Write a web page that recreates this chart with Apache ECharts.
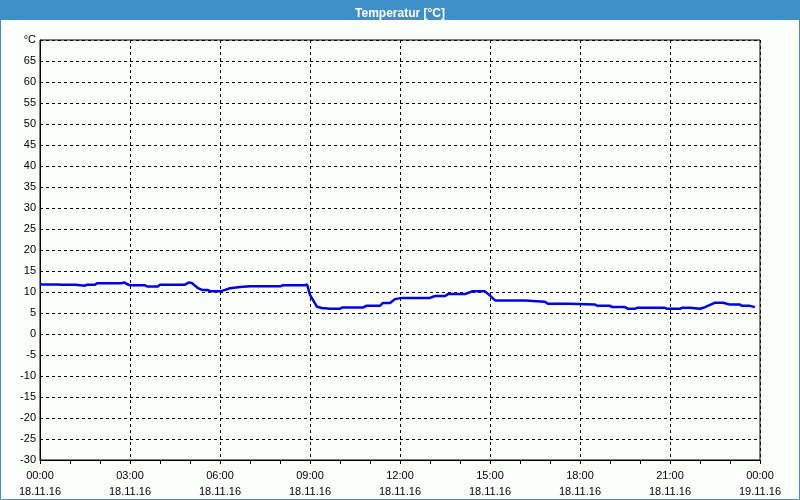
<!DOCTYPE html>
<html>
<head>
<meta charset="utf-8">
<script src="https://cdn.jsdelivr.net/npm/echarts@6/dist/echarts.min.js"></script>
<style>
html,body{margin:0;padding:0;background:#fcfffc;}
#c{width:800px;height:500px;}
</style>
</head>
<body>
<div id="c"></div>
<script>
// Hours since 18.11.16 00:00
var hours = [0,0.57,0.63,0.73,1.17,1.23,1.5,1.57,1.83,1.9,2.73,2.8,2.9,3.0,3.5,3.57,3.93,4.0,4.83,4.97,5.07,5.27,5.4,5.6,5.67,6.0,6.17,6.33,6.67,7.0,8.0,8.1,8.83,8.9,9.0,9.23,9.4,9.67,10.0,10.07,10.77,10.87,11.33,11.43,11.67,11.83,12.07,13.0,13.17,13.5,13.6,14.17,14.4,14.83,14.93,15.17,16.17,16.23,16.83,16.93,17.67,17.73,18.5,18.57,19.0,19.07,19.5,19.6,19.83,19.9,20.83,20.9,21.33,21.4,21.67,21.73,22.0,22.17,22.5,22.77,23.0,23.33,23.4,23.67,23.73,23.83];
var temps = [11.8,11.8,12.1,11.75,11.75,11.5,11.5,11.75,11.75,12.1,12.1,12.3,11.9,11.6,11.6,11.3,11.3,11.75,11.75,12.3,12.1,10.9,10.5,10.5,10.15,10.15,10.5,10.9,11.2,11.35,11.35,11.6,11.6,11.8,9.3,6.5,6.2,6.0,6.0,6.3,6.3,6.7,6.7,7.4,7.4,8.3,8.6,8.6,9.05,9.05,9.5,9.5,10.15,10.15,9.6,8.0,8.0,7.7,7.7,7.2,7.2,7.0,7.0,6.75,6.75,6.4,6.4,6.0,6.0,6.25,6.25,6.0,6.0,6.25,6.25,6.0,6.0,6.4,7.45,7.45,7.0,7.0,6.7,6.7,6.4,6.4];
var timeLabels = ["00:00","03:00","06:00","09:00","12:00","15:00","18:00","21:00","00:00"];
var dateLabels = ["18.11.16","18.11.16","18.11.16","18.11.16","18.11.16","18.11.16","18.11.16","18.11.16","19.11.16"];
var yUnitLabel = "°C";
var titleText = "Temperatur [°C]";

var data = hours.map(function(h,i){return [h,temps[i]];});
var chart = echarts.init(document.getElementById('c'), null, {renderer:'canvas'});
var font = "Liberation Sans";
chart.setOption({
  backgroundColor:'#fcfffc',
  animation:false,
  title:{text:titleText,left:'center',top:3,textStyle:{color:'#ffffff',fontSize:12,fontWeight:'bold',fontFamily:font}},
  graphic:[
    {type:'rect',z:-1,shape:{x:0,y:0,width:800,height:20},style:{fill:'#3d91c8'}},
    {type:'rect',z:100,shape:{x:0.5,y:0.5,width:799,height:499},style:{fill:null,stroke:'#3d91c8',lineWidth:1}}
  ],
  grid:{left:40,right:40,top:40,bottom:40,show:true,borderColor:'#000',borderWidth:1,backgroundColor:'transparent'},
  xAxis:{type:'value',min:0,max:24,interval:3,
    axisLine:{show:true,onZero:false,lineStyle:{color:'#000',width:1}},
    axisTick:{show:true,length:4,lineStyle:{color:'#000'}},
    minorTick:{show:true,splitNumber:3,length:4,lineStyle:{color:'#000'}},
    splitLine:{show:true,lineStyle:{color:'#000',type:[3,3],width:1}},
    axisLabel:{color:'#000',fontSize:11,fontFamily:font,margin:8,lineHeight:16,
      formatter:function(v){var i=Math.round(v/3);return timeLabels[i]+'\n'+dateLabels[i];}}
  },
  yAxis:{type:'value',min:-30,max:70,interval:5,
    axisLine:{show:true,onZero:false,lineStyle:{color:'#000',width:1}},
    axisTick:{show:false},
    splitLine:{show:true,lineStyle:{color:'#000',type:[3,3],width:1}},
    axisLabel:{color:'#000',fontSize:11,fontFamily:font,margin:4,
      formatter:function(v){return v===70?yUnitLabel:String(v);}}
  },
  series:[{type:'line',data:data,showSymbol:false,lineStyle:{color:'#0000ee',width:2.5},itemStyle:{color:'#0000ee'}}]
});
</script>
</body>
</html>
